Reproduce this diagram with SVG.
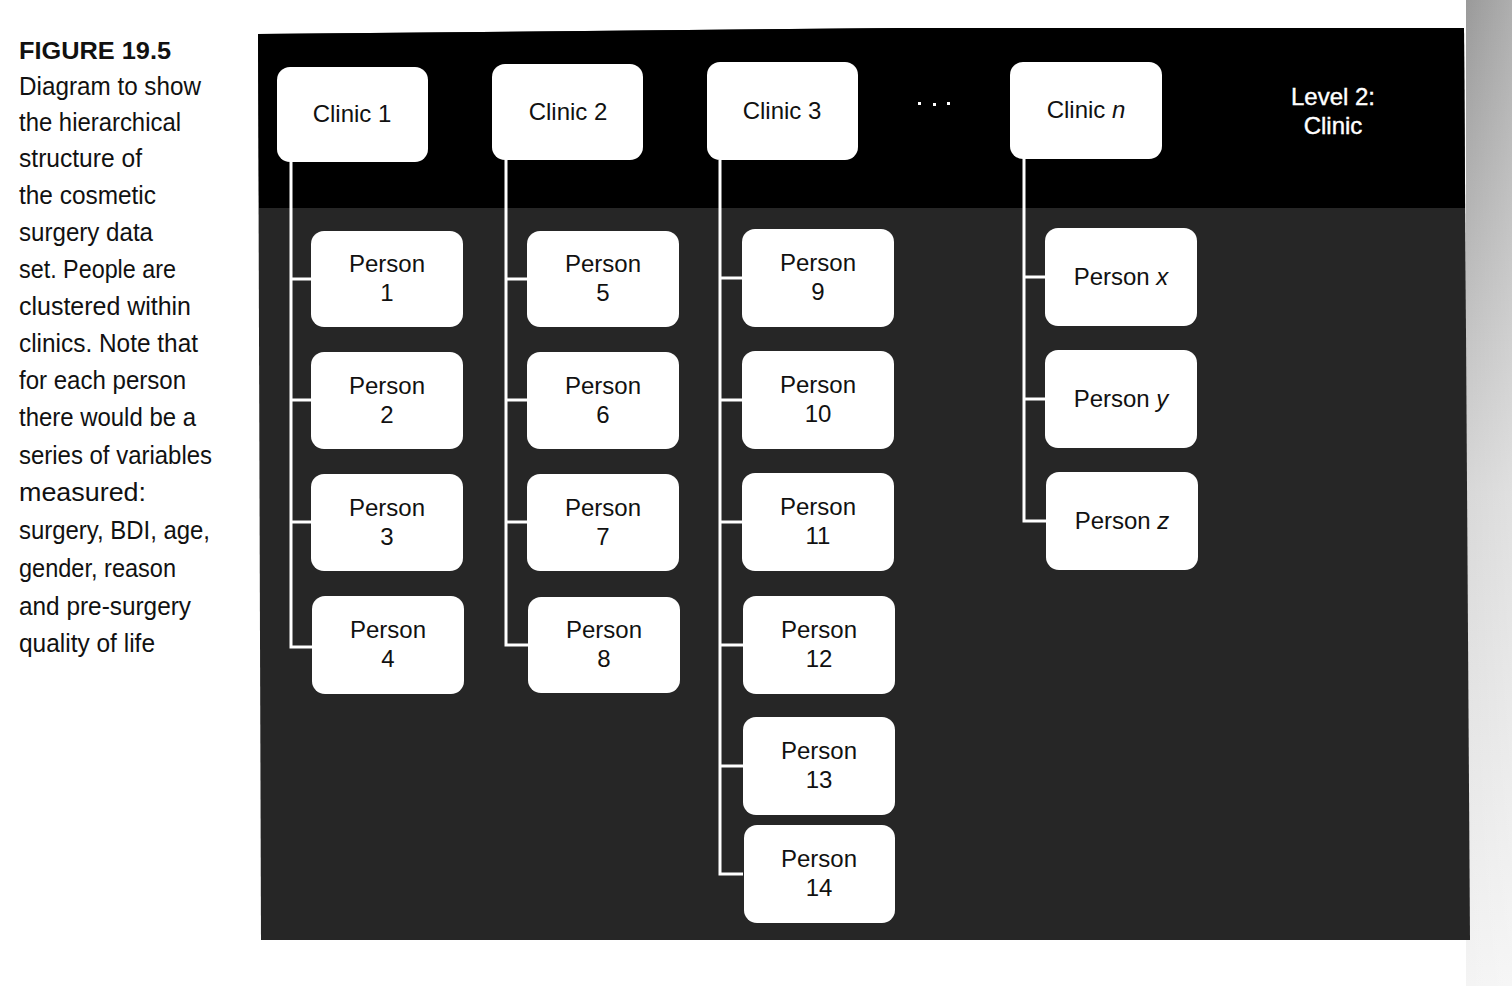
<svg xmlns="http://www.w3.org/2000/svg" width="1512" height="986" viewBox="0 0 1512 986">
<defs>
<style>
.cap{font-family:"Liberation Sans Narrow","Liberation Sans",Arial,sans-serif;font-size:26px;fill:#111}
.capb{font-family:"Liberation Sans",Arial,sans-serif;font-size:24px;font-weight:bold;fill:#111}
.box{fill:#fff}
.t{font-family:"Liberation Sans",Arial,sans-serif;font-size:24px;fill:#111;text-anchor:middle}
.lvl{font-family:"Liberation Sans",Arial,sans-serif;font-size:24px;fill:#fff;text-anchor:middle;stroke:#fff;stroke-width:0.4}
.con{fill:none;stroke:#fff;stroke-width:3}
</style>
<linearGradient id="edge" x1="0" y1="0" x2="0" y2="1">
<stop offset="0" stop-color="#9a9a9a"/>
<stop offset="0.5" stop-color="#d8d8d8"/>
<stop offset="1" stop-color="#f4f4f4"/>
</linearGradient>
<linearGradient id="edgeh" x1="0" y1="0" x2="1" y2="0">
<stop offset="0" stop-color="#fff" stop-opacity="0"/>
<stop offset="1" stop-color="#fff" stop-opacity="0.2"/>
</linearGradient>
</defs>
<rect x="0" y="0" width="1512" height="986" fill="#fff"/>
<rect x="1466" y="0" width="46" height="986" fill="url(#edge)"/>
<rect x="1466" y="0" width="46" height="986" fill="url(#edgeh)"/>
<!-- caption -->
<g id="caption">
<text class="capb" x="19" y="59" textLength="152" lengthAdjust="spacingAndGlyphs">FIGURE 19.5</text>
<text class="cap" x="19" y="95" textLength="182" lengthAdjust="spacingAndGlyphs">Diagram to show</text>
<text class="cap" x="19" y="131" textLength="162" lengthAdjust="spacingAndGlyphs">the hierarchical</text>
<text class="cap" x="19" y="167" textLength="123" lengthAdjust="spacingAndGlyphs">structure of</text>
<text class="cap" x="19" y="204" textLength="137" lengthAdjust="spacingAndGlyphs">the cosmetic</text>
<text class="cap" x="19" y="241" textLength="134" lengthAdjust="spacingAndGlyphs">surgery data</text>
<text class="cap" x="19" y="278" textLength="157" lengthAdjust="spacingAndGlyphs">set. People are</text>
<text class="cap" x="19" y="315" textLength="172" lengthAdjust="spacingAndGlyphs">clustered within</text>
<text class="cap" x="19" y="352" textLength="179" lengthAdjust="spacingAndGlyphs">clinics. Note that</text>
<text class="cap" x="19" y="389" textLength="167" lengthAdjust="spacingAndGlyphs">for each person</text>
<text class="cap" x="19" y="426" textLength="177" lengthAdjust="spacingAndGlyphs">there would be a</text>
<text class="cap" x="19" y="464" textLength="193" lengthAdjust="spacingAndGlyphs">series of variables</text>
<text class="cap" x="19" y="501" textLength="127" lengthAdjust="spacingAndGlyphs">measured:</text>
<text class="cap" x="19" y="539" textLength="191" lengthAdjust="spacingAndGlyphs">surgery, BDI, age,</text>
<text class="cap" x="19" y="577" textLength="157" lengthAdjust="spacingAndGlyphs">gender, reason</text>
<text class="cap" x="19" y="615" textLength="172" lengthAdjust="spacingAndGlyphs">and pre-surgery</text>
<text class="cap" x="19" y="652" textLength="136" lengthAdjust="spacingAndGlyphs">quality of life</text>
</g>
<!-- panel -->
<polygon points="258,34 900,28 1464,28 1470,940 261,940" fill="#262626"/>
<polygon points="258,34 900,28 1464,28 1465,208 259,208" fill="#000"/>
<g id="dots" fill="#fff">
<rect x="918" y="102" width="3" height="3"/>
<rect x="933" y="103" width="3" height="3"/>
<rect x="947" y="102" width="3" height="3"/>
</g>
<g id="level2">
<text class="lvl" x="1333" y="105">Level 2:</text>
<text class="lvl" x="1333" y="134">Clinic</text>
</g>
<!-- connectors -->
<g id="connectors" class="con">
<path d="M291,162 V647 H312 M291,279 H312 M291,400 H312 M291,522 H312"/>
<path d="M506,160 V645 H528 M506,279 H528 M506,400 H528 M506,522 H528"/>
<path d="M720,160 V874 H743 M720,278 H743 M720,400 H743 M720,522 H743 M720,645 H743 M720,766 H743"/>
<path d="M1024,159 V521 H1046 M1024,277 H1046 M1024,399 H1046"/>
</g>
<!-- clinics -->
<g id="clinic1"><rect class="box" x="277" y="67" width="151" height="95" rx="13"/><text class="t" x="352" y="122">Clinic 1</text></g>
<g id="clinic2"><rect class="box" x="492" y="64" width="151" height="96" rx="13"/><text class="t" x="568" y="120">Clinic 2</text></g>
<g id="clinic3"><rect class="box" x="707" y="62" width="151" height="98" rx="13"/><text class="t" x="782" y="119">Clinic 3</text></g>
<g id="clinicn"><rect class="box" x="1010" y="62" width="152" height="97" rx="13"/><text class="t" x="1086" y="118">Clinic <tspan font-style="italic">n</tspan></text></g>
<!-- column 1 -->
<g id="person1"><rect class="box" x="311" y="231" width="152" height="96" rx="13"/><text class="t" x="387" y="272">Person</text><text class="t" x="387" y="301">1</text></g>
<g id="person2"><rect class="box" x="311" y="352" width="152" height="97" rx="13"/><text class="t" x="387" y="394">Person</text><text class="t" x="387" y="423">2</text></g>
<g id="person3"><rect class="box" x="311" y="474" width="152" height="97" rx="13"/><text class="t" x="387" y="516">Person</text><text class="t" x="387" y="545">3</text></g>
<g id="person4"><rect class="box" x="312" y="596" width="152" height="98" rx="13"/><text class="t" x="388" y="638">Person</text><text class="t" x="388" y="667">4</text></g>
<!-- column 2 -->
<g id="person5"><rect class="box" x="527" y="231" width="152" height="96" rx="13"/><text class="t" x="603" y="272">Person</text><text class="t" x="603" y="301">5</text></g>
<g id="person6"><rect class="box" x="527" y="352" width="152" height="97" rx="13"/><text class="t" x="603" y="394">Person</text><text class="t" x="603" y="423">6</text></g>
<g id="person7"><rect class="box" x="527" y="474" width="152" height="97" rx="13"/><text class="t" x="603" y="516">Person</text><text class="t" x="603" y="545">7</text></g>
<g id="person8"><rect class="box" x="528" y="597" width="152" height="96" rx="13"/><text class="t" x="604" y="638">Person</text><text class="t" x="604" y="667">8</text></g>
<!-- column 3 -->
<g id="person9"><rect class="box" x="742" y="229" width="152" height="98" rx="13"/><text class="t" x="818" y="271">Person</text><text class="t" x="818" y="300">9</text></g>
<g id="person10"><rect class="box" x="742" y="351" width="152" height="98" rx="13"/><text class="t" x="818" y="393">Person</text><text class="t" x="818" y="422">10</text></g>
<g id="person11"><rect class="box" x="742" y="473" width="152" height="98" rx="13"/><text class="t" x="818" y="515">Person</text><text class="t" x="818" y="544">11</text></g>
<g id="person12"><rect class="box" x="743" y="596" width="152" height="98" rx="13"/><text class="t" x="819" y="638">Person</text><text class="t" x="819" y="667">12</text></g>
<g id="person13"><rect class="box" x="743" y="717" width="152" height="98" rx="13"/><text class="t" x="819" y="759">Person</text><text class="t" x="819" y="788">13</text></g>
<g id="person14"><rect class="box" x="744" y="825" width="151" height="98" rx="13"/><text class="t" x="819" y="867">Person</text><text class="t" x="819" y="896">14</text></g>
<!-- column 4 -->
<g id="personx"><rect class="box" x="1045" y="228" width="152" height="98" rx="13"/><text class="t" x="1121" y="285">Person <tspan font-style="italic">x</tspan></text></g>
<g id="persony"><rect class="box" x="1045" y="350" width="152" height="98" rx="13"/><text class="t" x="1121" y="407">Person <tspan font-style="italic">y</tspan></text></g>
<g id="personz"><rect class="box" x="1046" y="472" width="152" height="98" rx="13"/><text class="t" x="1122" y="529">Person <tspan font-style="italic">z</tspan></text></g>
</svg>
